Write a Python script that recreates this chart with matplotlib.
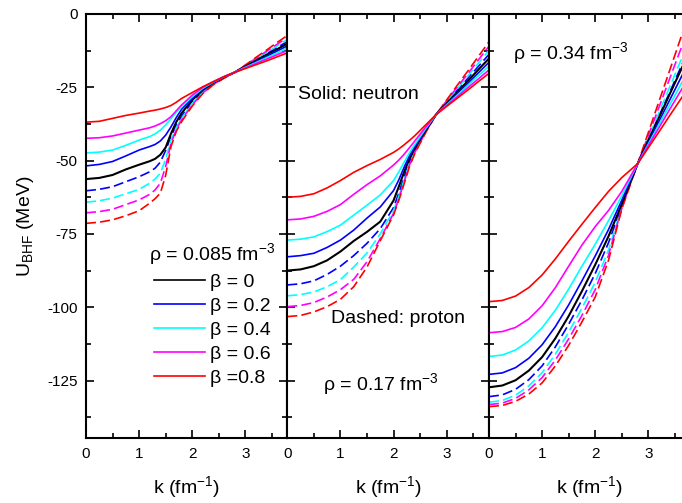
import matplotlib
matplotlib.use('Agg')
import matplotlib.pyplot as plt
from matplotlib.ticker import MultipleLocator
from matplotlib.lines import Line2D

plt.rcParams['font.family'] = ['Liberation Sans', 'DejaVu Sans']
plt.rcParams['mathtext.fontset'] = 'custom'
plt.rcParams['mathtext.rm'] = 'Liberation Sans'
plt.rcParams['mathtext.it'] = 'Liberation Sans:italic'
plt.rcParams['mathtext.bf'] = 'Liberation Sans:bold'
plt.rcParams['axes.unicode_minus'] = False

# asymmetry values and colours
betas = [0.0, 0.2, 0.4, 0.6, 0.8]
colors = ['black', '#0000ff', '#00ffff', '#ff00ff', '#ff0000']
beta_labels = ['β = 0', 'β = 0.2', 'β = 0.4', 'β = 0.6', 'β =0.8']

# rho = 0.085 fm^-3
k_085 = [0, 0.25, 0.5, 0.75, 1.0, 1.2, 1.3, 1.4, 1.5, 1.6, 1.7, 1.8, 2.0, 2.2, 2.4, 2.6, 2.8, 3.0, 3.2, 3.4, 3.6, 3.8]
neu_085 = [
    [-56.3, -55.9, -54.9, -53.0, -51.4, -50.2, -49.4, -48.0, -45.5, -40.8, -36.8, -33.8, -29.3, -25.9, -23.4, -21.5, -19.9, -17.9, -15.9, -13.9, -12.0, -10.0],
    [-51.8, -51.3, -50.3, -48.4, -46.4, -45.2, -44.5, -43.3, -41.3, -38.5, -35.3, -32.5, -28.8, -25.6, -23.3, -21.5, -19.9, -18.1, -16.3, -14.5, -12.6, -10.8],
    [-47.4, -47.1, -46.4, -44.8, -43.0, -41.8, -40.9, -39.6, -37.8, -35.7, -33.5, -31.5, -28.2, -25.3, -23.2, -21.4, -19.9, -18.2, -16.6, -14.9, -13.3, -11.6],
    [-42.4, -42.2, -41.6, -40.6, -39.6, -38.8, -38.2, -37.4, -36.4, -35.0, -33.0, -31.0, -27.7, -25.0, -23.0, -21.3, -19.9, -18.4, -16.9, -15.4, -13.9, -12.4],
    [-36.9, -36.6, -35.6, -34.6, -33.8, -33.1, -32.8, -32.4, -31.9, -31.2, -30.1, -28.8, -26.8, -24.8, -23.1, -21.4, -19.9, -18.6, -17.3, -16.0, -14.6, -13.2],
]
pro_085 = [
    [-60.3, -59.8, -58.9, -57.2, -55.5, -53.8, -52.6, -50.5, -46.5, -41.8, -37.8, -34.8, -29.9, -26.3, -23.6, -21.6, -19.9, -17.8, -15.7, -13.6, -11.4, -9.3],
    [-64.2, -63.7, -62.8, -61.3, -59.8, -57.7, -56.3, -54.3, -49.5, -43.0, -38.8, -35.6, -30.5, -26.6, -23.8, -21.7, -19.9, -17.6, -15.4, -13.1, -10.9, -8.6],
    [-67.8, -67.4, -66.6, -65.0, -63.4, -61.5, -60.0, -57.7, -52.0, -44.1, -39.5, -36.1, -31.0, -26.9, -24.0, -21.8, -19.9, -17.5, -15.1, -12.7, -10.3, -7.9],
    [-71.4, -71.0, -70.2, -68.8, -67.1, -64.5, -63.0, -61.1, -55.0, -45.2, -40.0, -36.7, -31.4, -27.1, -24.1, -21.9, -19.9, -17.4, -14.8, -12.3, -9.7, -7.2],
]

# rho = 0.17 fm^-3
k_017 = [0, 0.25, 0.5, 0.75, 1.0, 1.25, 1.5, 1.75, 2.0, 2.1, 2.2, 2.3, 2.4, 2.6, 2.8, 3.0, 3.2, 3.4, 3.6, 3.8]
neu_017 = [
    [-87.5, -87.1, -86.0, -84.0, -81.0, -77.4, -74.3, -70.8, -63.6, -58.8, -53.8, -49.3, -45.8, -39.8, -34.3, -30.5, -26.6, -22.8, -18.9, -15.1],
    [-82.8, -82.4, -81.6, -79.6, -77.1, -73.7, -69.6, -65.8, -60.2, -56.5, -52.2, -48.3, -45.2, -39.5, -34.3, -30.7, -27.1, -23.6, -20.0, -16.4],
    [-77.1, -76.8, -76.0, -74.2, -72.0, -68.6, -65.2, -61.7, -56.8, -53.8, -50.5, -47.3, -44.5, -39.2, -34.3, -31.0, -27.7, -24.3, -21.0, -17.7],
    [-70.2, -69.9, -69.0, -67.3, -65.0, -61.5, -58.2, -55.2, -51.5, -49.8, -47.8, -45.6, -43.3, -38.7, -34.3, -31.2, -28.2, -25.1, -22.1, -19.0],
    [-62.5, -62.2, -61.3, -59.3, -56.8, -54.0, -51.7, -49.6, -47.2, -46.0, -44.6, -43.1, -41.5, -37.9, -34.3, -31.5, -28.7, -25.9, -23.0, -20.2],
]
pro_017 = [
    [-92.4, -92.0, -91.0, -88.8, -86.0, -82.4, -78.2, -73.2, -66.0, -61.0, -55.5, -50.3, -46.5, -40.0, -34.3, -30.2, -26.0, -21.9, -17.8, -13.7],
    [-96.1, -95.7, -94.8, -93.0, -90.6, -86.3, -81.5, -75.0, -67.0, -62.2, -56.6, -51.0, -46.9, -40.2, -34.3, -29.9, -25.5, -21.1, -16.7, -12.3],
    [-99.8, -99.4, -98.4, -96.5, -94.0, -90.5, -84.5, -76.6, -68.0, -63.0, -57.2, -51.5, -47.2, -40.4, -34.3, -29.6, -24.9, -20.3, -15.6, -10.9],
    [-103.2, -102.8, -101.6, -99.8, -97.3, -93.0, -86.3, -77.3, -68.5, -63.5, -57.8, -52.0, -47.6, -40.6, -34.3, -29.3, -24.3, -19.4, -14.4, -9.4],
]

# rho = 0.34 fm^-3
k_034 = [0, 0.25, 0.5, 0.75, 1.0, 1.25, 1.5, 1.75, 2.0, 2.25, 2.5, 2.65, 2.8, 3.0, 3.2, 3.4, 3.6, 3.7]
neu_034 = [
    [-127.3, -126.7, -124.9, -121.6, -117.0, -110.6, -103.0, -94.5, -85.5, -75.8, -64.8, -57.8, -51.0, -43.1, -35.3, -27.4, -19.6, -15.6],
    [-122.9, -122.4, -120.6, -117.4, -112.8, -106.6, -99.2, -91.0, -82.5, -73.5, -63.5, -57.2, -51.0, -43.8, -36.6, -29.4, -22.2, -18.6],
    [-116.8, -116.3, -114.6, -111.5, -107.0, -101.0, -93.8, -86.0, -78.5, -70.5, -62.0, -56.5, -51.0, -44.4, -37.7, -31.1, -24.4, -21.1],
    [-108.7, -108.3, -106.9, -104.0, -99.5, -93.3, -86.0, -78.8, -72.5, -67.0, -60.5, -55.8, -51.0, -44.9, -38.8, -32.6, -26.5, -23.5],
    [-98.1, -97.7, -96.2, -93.3, -89.0, -83.5, -77.5, -71.7, -66.0, -60.5, -55.8, -53.4, -51.0, -45.6, -40.2, -34.7, -29.3, -26.6],
]
pro_034 = [
    [-130.5, -129.9, -128.0, -124.7, -120.0, -113.5, -105.8, -97.5, -88.5, -78.0, -65.5, -58.0, -51.0, -42.9, -34.8, -26.8, -18.6, -14.6],
    [-132.4, -131.8, -130.0, -126.8, -122.3, -116.0, -108.5, -100.3, -91.5, -80.5, -66.0, -58.3, -51.0, -42.3, -33.6, -25.0, -16.3, -11.9],
    [-133.2, -132.7, -131.1, -128.2, -124.0, -118.0, -110.8, -102.8, -94.0, -82.3, -66.3, -58.5, -51.0, -41.4, -31.8, -22.1, -12.5, -7.7],
    [-133.9, -133.5, -132.1, -129.6, -125.8, -120.0, -113.0, -105.0, -96.5, -84.0, -66.5, -58.7, -51.0, -40.4, -29.8, -19.3, -8.7, -3.4],
]

panels = [(k_085, neu_085, pro_085), (k_017, neu_017, pro_017), (k_034, neu_034, pro_034)]

fig = plt.figure(figsize=(6.82, 5.03), dpi=100)
lefts = [0.1261, 0.4213, 0.7170]
axes = []
for i, (k, neu, pro) in enumerate(panels):
    ax = fig.add_axes([lefts[i], 0.1286, 0.2952, 0.8436])
    axes.append(ax)
    # dashed: proton (beta > 0 only)
    for j in range(4):
        ax.plot(k, pro[j], color=colors[j + 1], lw=1.2, ls=(0, (6, 2.5)))
    # solid: neutron
    for j in range(5):
        ax.plot(k, neu[j], color=colors[j], lw=1.5 if j == 0 else 1.2)
    ax.set_xlim(0, 3.79)
    ax.set_ylim(-144.7, 0)
    ax.xaxis.set_major_locator(MultipleLocator(1))
    ax.xaxis.set_minor_locator(MultipleLocator(0.5))
    ax.yaxis.set_major_locator(MultipleLocator(25))
    ax.yaxis.set_minor_locator(MultipleLocator(12.5))
    ax.tick_params(which='both', direction='in', top=True, right=True, labelsize=11, pad=6)
    ax.tick_params(which='major', length=6, width=1.2)
    ax.tick_params(which='minor', length=3.5, width=1.2)
    for s in ax.spines.values():
        s.set_linewidth(1.5)
    ax.set_xlabel('k (fm$^{-1}$)', fontsize=14, labelpad=10)
    if i > 0:
        ax.tick_params(labelleft=False)

axes[0].set_ylabel('U$_{\\mathrm{BHF}}$ (MeV)', fontsize=14, labelpad=8)

handles = [Line2D([], [], color=c, lw=1.2) for c in colors]
axes[0].legend(handles, beta_labels, title='ρ = 0.085 fm$^{-3}$', loc='upper left',
               bbox_to_anchor=(0.315, 0.465), frameon=False, fontsize=14, title_fontsize=14,
               handlelength=2.6, handletextpad=0.3, labelspacing=0.33, borderpad=0,
               borderaxespad=0)

axes[1].text(0.055, 0.811, 'Solid: neutron', transform=axes[1].transAxes, fontsize=14, va='center')
axes[1].text(0.216, 0.2835, 'Dashed: proton', transform=axes[1].transAxes, fontsize=14, va='center')
axes[1].text(0.176, 0.128, 'ρ = 0.17 fm$^{-3}$', transform=axes[1].transAxes, fontsize=14, va='center')
axes[2].text(0.118, 0.908, 'ρ = 0.34 fm$^{-3}$', transform=axes[2].transAxes, fontsize=14, va='center')

fig.savefig('out.png', dpi=100)
